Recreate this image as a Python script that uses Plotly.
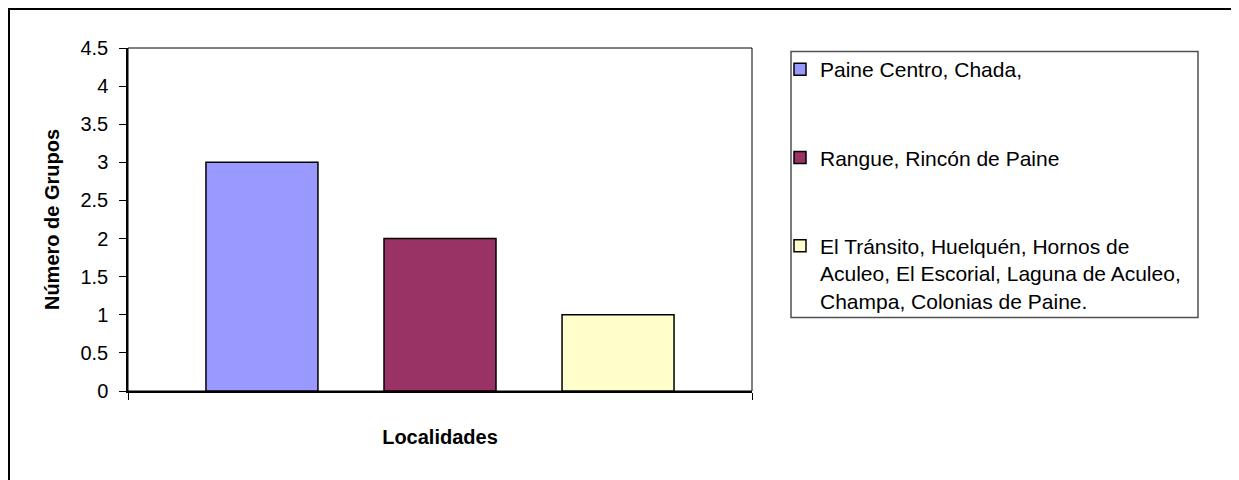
import plotly.graph_objects as go

# Data
category = ["Localidades"]
series_names = [
    "Paine Centro, Chada,",
    "Rangue, Rincón de Paine",
    "El Tránsito, Huelquén, Hornos de<br>Aculeo, El Escorial, Laguna de Aculeo,<br>Champa, Colonias de Paine.",
]
series_values = [3, 2, 1]
series_colors = ["#9999FF", "#993366", "#FFFFCC"]
y_ticks = [0, 0.5, 1, 1.5, 2, 2.5, 3, 3.5, 4, 4.5]
y_tick_labels = ["0", "0.5", "1", "1.5", "2", "2.5", "3", "3.5", "4", "4.5"]

FONT = "Liberation Sans, Arial, sans-serif"

fig = go.Figure()
for i, (name, val, col) in enumerate(zip(series_names, series_values, series_colors)):
    fig.add_trace(go.Bar(
        x=category, y=[val], name=name,
        marker=dict(color=col, line=dict(color="#000000", width=1.5)),
        legendgroup=f"g{i}",
    ))

# page has an 8px body margin; coordinates below are screen pixels
OFF = 8
W, H = 1239, 480
L, T = 128 - OFF, 48 - OFF
pw, ph = 624, 343
R = W - L - pw
B = H - T - ph

def px_x(x):
    return (x - OFF - L) / pw

def px_y(y):
    return (H - B - (y - OFF)) / ph

fig.update_layout(
    width=W, height=H,
    margin=dict(l=L, r=R, t=T, b=B, autoexpand=False),
    paper_bgcolor="white", plot_bgcolor="white",
    font=dict(family=FONT, size=20, color="#000000"),
    barmode="group", bargap=0.144, bargroupgap=0.371,
    showlegend=True,
    legend=dict(
        x=px_x(780), y=px_y(49), xanchor="left", yanchor="top",
        xref="paper", yref="paper",
        borderwidth=0, bgcolor="rgba(0,0,0,0)",
        font=dict(family=FONT, size=21, color="#000000"),
        tracegroupgap=58, valign="top", traceorder="grouped",
    ),
    xaxis=dict(
        type="category", showticklabels=False, ticks="outside", ticklen=7,
        tickson="boundaries", tickcolor="#000000",
        showline=True, linecolor="#000000", linewidth=1.5,
        showgrid=False, zeroline=False,
        title=dict(text="<b>Localidades</b>", font=dict(family=FONT, size=20), standoff=38),
    ),
    yaxis=dict(
        range=[0, 4.5], tickmode="array", tickvals=y_ticks, ticktext=y_tick_labels,
        ticks="outside", ticklen=7, tickcolor="#000000",
        showline=True, linecolor="#000000", linewidth=1.5,
        showgrid=False, zeroline=False, ticklabelstandoff=7,
        tickfont=dict(family=FONT, size=20),
        title=dict(text="<b>Número de Grupos</b>", font=dict(family=FONT, size=20), standoff=15),
    ),
    shapes=[
        # plot area border (top/right)
        dict(type="rect", xref="paper", yref="paper", x0=0, x1=1, y0=0, y1=1,
             line=dict(color="#000000", width=1), layer="below"),
        # legend box
        dict(type="rect", xref="paper", yref="paper",
             x0=px_x(791), x1=px_x(1198), y0=px_y(317.5), y1=px_y(51.5),
             line=dict(color="#505050", width=1.5), fillcolor="rgba(0,0,0,0)", layer="below"),
        # outer chart border
        dict(type="rect", xref="paper", yref="paper",
             x0=px_x(9), x1=px_x(1260), y0=px_y(500), y1=px_y(9),
             line=dict(color="#000000", width=2), layer="above"),
    ],
)

fig.write_html("out.html")
